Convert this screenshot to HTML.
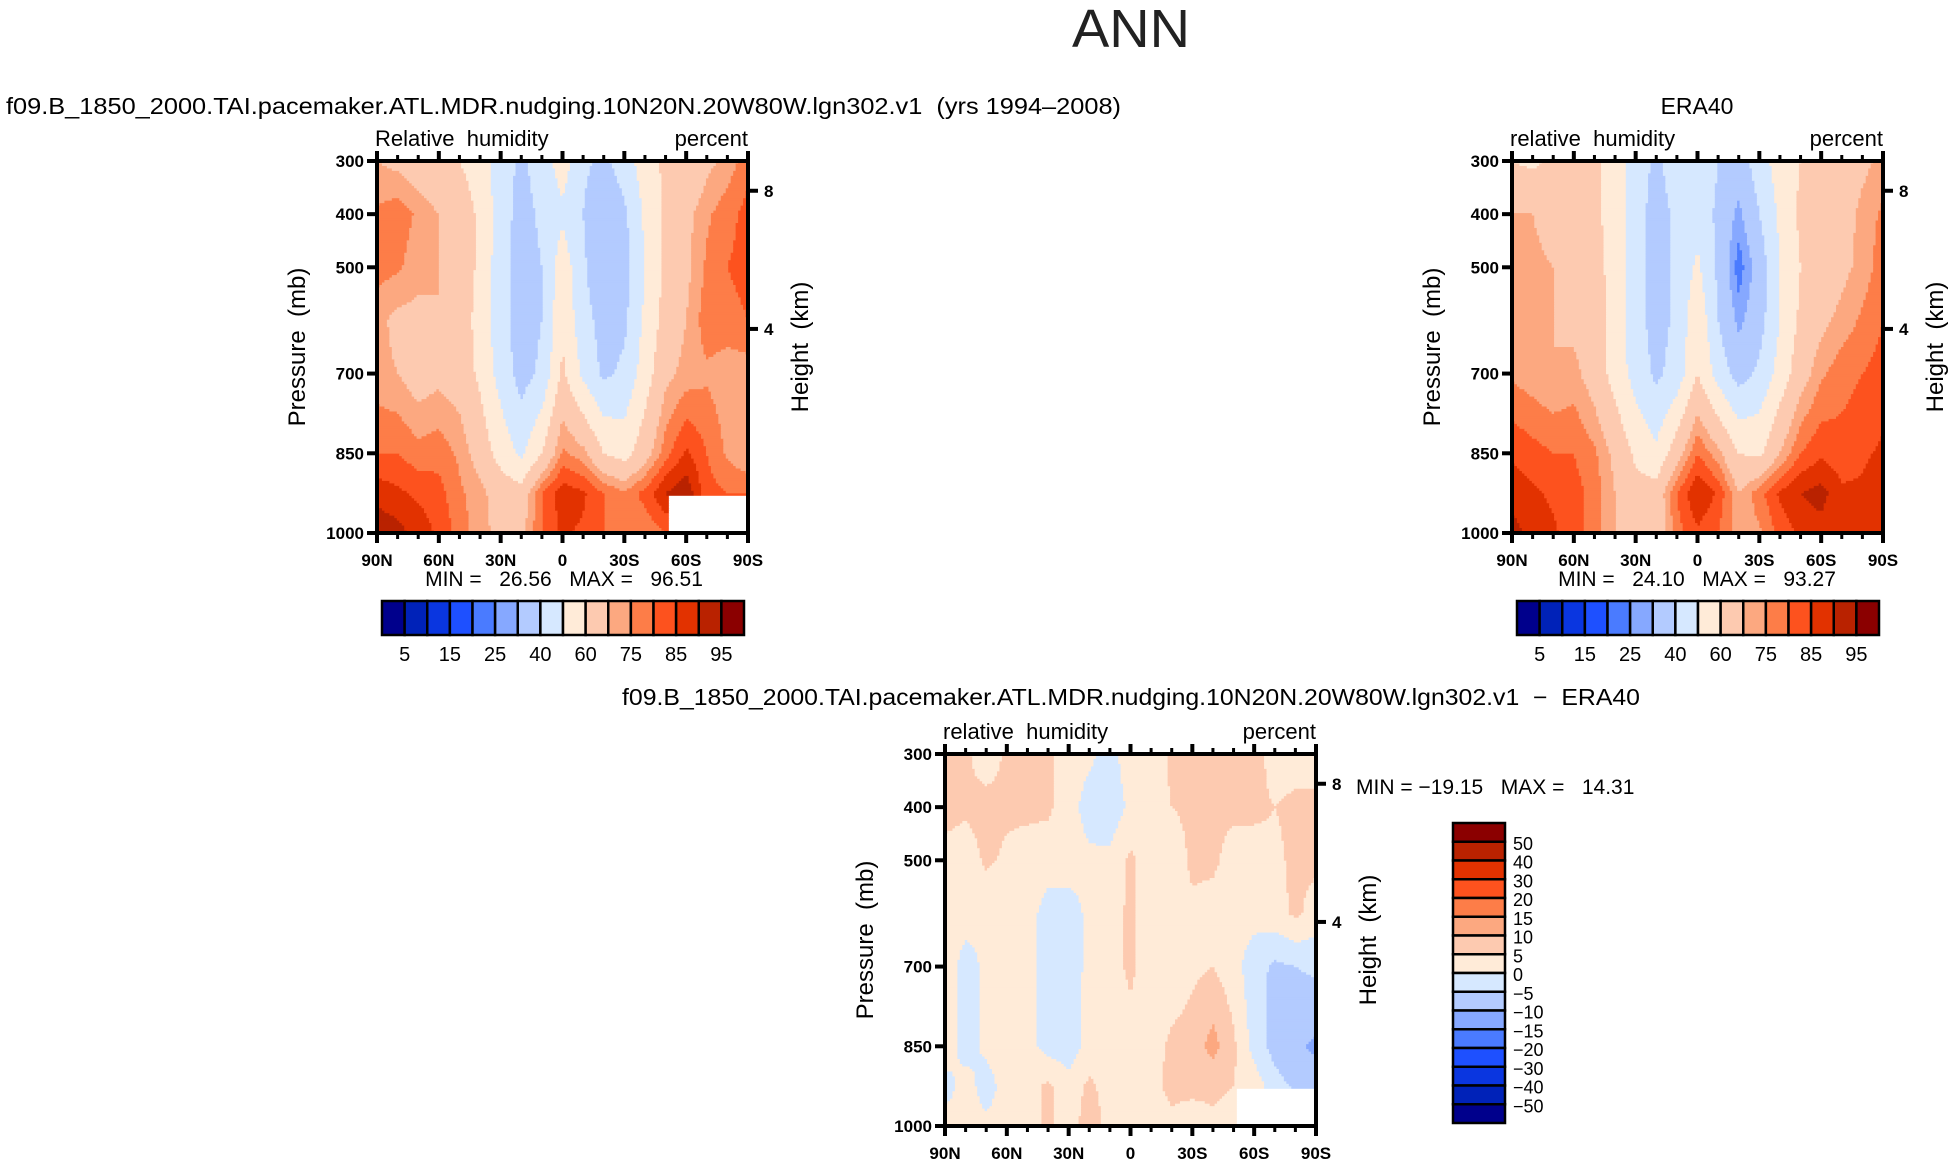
<!DOCTYPE html>
<html><head><meta charset="utf-8"><style>
html,body{margin:0;padding:0;background:#fff}
svg{display:block;font-family:"Liberation Sans",sans-serif}
text{white-space:pre}
</style></head><body>
<svg id="page" width="1953" height="1163" viewBox="0 0 1953 1163" xmlns="http://www.w3.org/2000/svg">
<text x="1131" y="47" font-size="54" text-anchor="middle" fill="#222" textLength="118" lengthAdjust="spacingAndGlyphs">ANN</text>
<text x="6" y="114" font-size="23" textLength="1115" lengthAdjust="spacingAndGlyphs">f09.B_1850_2000.TAI.pacemaker.ATL.MDR.nudging.10N20N.20W80W.lgn302.v1  (yrs 1994–2008)</text>
<text x="1697" y="114" font-size="23" text-anchor="middle">ERA40</text>
<text x="1131" y="705" font-size="23" text-anchor="middle" textLength="1018" lengthAdjust="spacingAndGlyphs">f09.B_1850_2000.TAI.pacemaker.ATL.MDR.nudging.10N20N.20W80W.lgn302.v1  −  ERA40</text>
<g id="plots"></g>
</svg>
<script>
// ---- data ----
const lats = [90,80,70,60,50,40,30,20,10,0,-10,-20,-30,-40,-50,-60,-70,-80,-90];
const levels = [300,400,500,600,700,850,925,1000];
const missingLat = [-52];   // model data missing south of this latitude...
const missingPres = [929];  // ...and below this pressure level
const modelRH = [
 [70,68,65,62,60,55,45,38,45,55,42,38,45,55,62,60,68,72,78],
 [76,78,74,70,66,58,45,36,42,48,40,30,38,52,62,68,74,78,82],
 [77,76,72,70,66,58,44,35,40,56,42,30,36,50,62,68,76,80,82],
 [72,68,68,70,66,56,44,35,40,58,44,36,38,52,64,70,78,78,80],
 [72,70,66,68,66,58,46,36,42,62,48,38,42,55,68,72,74,72,72],
 [80,80,77,78,74,66,56,48,60,76,72,60,56,66,78,86,80,74,70],
 [88,86,84,82,76,72,66,64,80,88,86,80,76,82,90,94,82,80,80],
 [94,92,88,84,78,72,68,68,80,86,84,80,78,76,80,80,80,80,80]
];
const eraRH = [
 [60,58,62,62,62,55,45,38,45,48,40,35,45,55,60,60,62,68,72],
 [70,70,66,64,62,56,44,36,42,46,38,28,40,52,62,64,66,72,76],
 [72,72,70,66,64,56,44,36,42,52,38,22,34,50,60,64,68,72,78],
 [74,72,70,68,64,56,44,36,42,58,40,28,36,50,62,68,72,76,80],
 [74,72,70,72,66,56,46,38,44,60,46,36,42,54,66,74,78,80,82],
 [84,82,80,80,76,68,58,52,66,80,72,60,58,70,80,84,82,84,86],
 [88,86,84,82,78,70,64,64,80,90,84,70,78,86,90,92,86,86,88],
 [92,88,86,82,78,70,64,64,78,84,80,72,74,82,86,88,86,88,90]
];
const diffRH = [
 [8,6,2,6,6,6,2,1,-2,3,2,6,6,6,6,7,3,3,3],
 [7,6,7,6,6,6,2,-2,-3,1,3,5,6,6,6,6,5,6,6],
 [3,2,6,4,3,2,2,1,1,6,2,2,6,6,3,3,4,6,6],
 [2,2,1,1,2,-2,-2,1,3,6,2,2,4,3,2,2,3,6,3],
 [3,-2,1,2,2,-3,-2,1,3,6,2,2,4,5,2,-3,-6,-5,-4],
 [3,-2,1,3,2,-2,-3,2,2,3,3,6,7,12,6,-2,-7,-9,-11],
 [-2,2,-2,2,3,6,2,6,3,2,4,6,6,6,5,3,-3,-6,-7],
 [2,2,1,2,3,6,2,8,3,1,2,4,3,4,3,2,2,2,2]
];
const rhBounds = [5,10,15,20,25,30,40,50,60,70,75,80,85,90,95];
const rhLabels = ["5","15","25","40","60","75","85","95"];
const diffBounds = [-50,-40,-30,-20,-15,-10,-5,0,5,10,15,20,30,40,50];
const diffLabels = ["50","40","30","20","15","10","5","0","−5","−10","−15","−20","−30","−40","−50"];
const colors = ["#00008c","#0022b8","#0a36e0","#1e50ff","#4a7bff","#86a8ff","#b3cbff","#d6e8ff","#ffebd8","#fdcab0","#fca880","#fd7d48","#fd521e","#e23200","#b92200","#8b0000"];
const latTicks = ["90N","60N","30N","0","30S","60S","90S"];
const presTicks = [300,400,500,700,850,1000];
const heightTicks = [8,4];
const heightPressure = [356,616];

const NS="http://www.w3.org/2000/svg";
const root=document.getElementById('plots');
function mk(tag,attrs,parent){const e=document.createElementNS(NS,tag);for(const k in attrs)e.setAttribute(k,attrs[k]);(parent||root).appendChild(e);return e;}
function colorOf(v,b){if(isNaN(v))return "#ffffff";let i=0;while(i<b.length&&v>=b[i])i++;return colors[i];}
function sample(data,lat,p,mask){
  if(mask&&lat<missingLat[0]&&p>missingPres[0])return NaN;
  let li=0;while(li<lats.length-2&&lat<lats[li+1])li++;
  let pi=0;while(pi<levels.length-2&&p>levels[pi+1])pi++;
  const tx=(lats[li]-lat)/(lats[li]-lats[li+1]);
  const ty=(p-levels[pi])/(levels[pi+1]-levels[pi]);
  const a=data[pi][li],b=data[pi][li+1],c=data[pi+1][li],d=data[pi+1][li+1];
  return (a*(1-tx)+b*tx)*(1-ty)+(c*(1-tx)+d*tx)*ty;
}
function drawPanel(o){
  const g=mk('g',{});
  
  
  const W=o.x1-o.x0,H=o.y1-o.y0;
  const xs=lat=>o.x0+(90-lat)/180*W;
  const ys=p=>o.y0+(p-300)/700*H;
  const NX=150,NY=150,dx=W/NX,dy=H/NY;
  const field=mk('g',{},g);
  
  
  for(let j=0;j<NY;j++){
    const p=300+(j+0.5)/NY*700;
    let start=0,cur=null;
    for(let i=0;i<=NX;i++){
      let c=null;
      if(i<NX){const lat=90-(i+0.5)/NX*180;c=colorOf(sample(o.data,lat,p,o.mask),o.bounds);}
      if(c!==cur){
        if(cur!==null){const r=mk('rect',{x:(o.x0+start*dx).toFixed(2),y:(o.y0+j*dy).toFixed(2),width:((i-start)*dx+0.6).toFixed(2),height:(dy+0.6).toFixed(2),fill:cur},field);
          
          }
        start=i;cur=c;
      }
    }
  }
  const fr=mk('rect',{x:o.x0,y:o.y0,width:W,height:H,fill:'none',stroke:'#000','stroke-width':4},g);
  
  
  for(let lat=90;lat>=-90;lat-=10){
    const x=xs(lat),maj=(lat%30===0);const L=maj?10:6;
    mk('line',{x1:x,y1:o.y0,x2:x,y2:o.y0-L,stroke:'#000','stroke-width':maj?4:3},g);
    mk('line',{x1:x,y1:o.y1,x2:x,y2:o.y1+L,stroke:'#000','stroke-width':maj?4:3},g);
  }
  latTicks.forEach((t,k)=>{const tx=mk('text',{x:xs(90-k*30),y:o.y1+33,'font-size':17,'font-weight':'bold','text-anchor':'middle'},g);tx.textContent=t;
    
    });
  presTicks.forEach(p=>{const y=ys(p);mk('line',{x1:o.x0,y1:y,x2:o.x0-10,y2:y,stroke:'#000','stroke-width':4},g);
    const tx=mk('text',{x:o.x0-13,y:y+6,'font-size':17,'font-weight':'bold','text-anchor':'end'},g);tx.textContent=p;
    
    });
  heightTicks.forEach((h,k)=>{const y=ys(heightPressure[k]);mk('line',{x1:o.x1,y1:y,x2:o.x1+10,y2:y,stroke:'#000','stroke-width':4},g);
    const tx=mk('text',{x:o.x1+16,y:y+6,'font-size':17,'font-weight':'bold'},g);tx.textContent=h;
    
    });
  const l=mk('text',{x:o.x0-2,y:o.y0-15,'font-size':22},g);l.textContent=o.left;
  
  
  const r=mk('text',{x:o.x1,y:o.y0-15,'font-size':22,'text-anchor':'end'},g);r.textContent='percent';
  
  
  const cy=(o.y0+o.y1)/2;
  const yl=mk('text',{x:o.x0-72,y:cy,'font-size':24,'text-anchor':'middle',transform:`rotate(-90 ${o.x0-72} ${cy})`},g);yl.textContent='Pressure  (mb)';
  
  
  const hl=mk('text',{x:o.x1+60,y:cy,'font-size':24,'text-anchor':'middle',transform:`rotate(-90 ${o.x1+60} ${cy})`},g);hl.textContent='Height  (km)';
  
  
}
function hColorbar(x0,x1,y0,y1,name){
  const g=mk('g',{});
  
  
  const w=(x1-x0)/16;
  colors.forEach((c,i)=>{const r=mk('rect',{x:x0+i*w,y:y0,width:w,height:y1-y0,fill:c,stroke:'#000','stroke-width':2.5},g);
    
    });
  rhLabels.forEach((t,k)=>{const tx=mk('text',{x:x0+(2*k+1)*w,y:y1+26,'font-size':20,'text-anchor':'middle'},g);tx.textContent=t;
    
    });
}
function txt(x,y,s,name,size,anchor){const t=mk('text',{x:x,y:y,'font-size':size,'text-anchor':anchor||'start'});t.textContent=s;
  
  return t;}

drawPanel({name:'model-panel',x0:377,x1:748,y0:161,y1:533,data:modelRH,bounds:rhBounds,left:'Relative  humidity',mask:true});
drawPanel({name:'era40-panel',x0:1512,x1:1883,y0:161,y1:533,data:eraRH,bounds:rhBounds,left:'relative  humidity',mask:false});
drawPanel({name:'diff-panel',x0:945,x1:1316,y0:754,y1:1126,data:diffRH,bounds:diffBounds,left:'relative  humidity',mask:true});
txt(564,586,'MIN =   26.56   MAX =   96.51','model-min-max',21,'middle');
txt(1697,586,'MIN =   24.10   MAX =   93.27','era40-min-max',21,'middle');
txt(1356,794,'MIN = −19.15   MAX =   14.31','diff-min-max',21);
hColorbar(382,744,601,635,'model-colorbar');
hColorbar(1517,1879,601,635,'era40-colorbar');
(function(){
  const g=mk('g',{});
  
  
  const x0=1453,x1=1505,y0=823,y1=1123,h=(y1-y0)/16;
  colors.slice().reverse().forEach((c,i)=>{const r=mk('rect',{x:x0,y:y0+i*h,width:x1-x0,height:h,fill:c,stroke:'#000','stroke-width':2.5},g);
    
    });
  diffLabels.forEach((t,k)=>{const tx=mk('text',{x:x1+8,y:y0+(k+1)*h+8,'font-size':18},g);tx.textContent=t;
    
    });
})();
</script>
</body></html>
